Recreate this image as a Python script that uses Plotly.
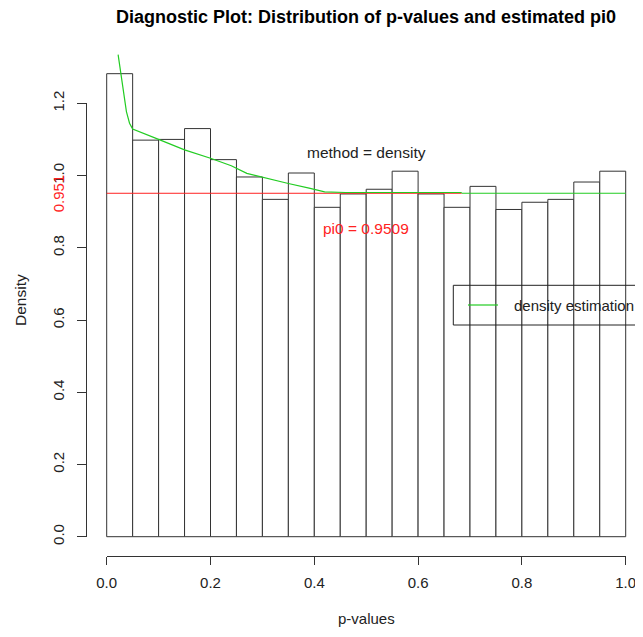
import plotly.graph_objects as go

# ---------------- data ----------------
bin_edges = [0.00, 0.05, 0.10, 0.15, 0.20, 0.25, 0.30, 0.35, 0.40, 0.45, 0.50,
             0.55, 0.60, 0.65, 0.70, 0.75, 0.80, 0.85, 0.90, 0.95, 1.00]
density = [1.282, 1.098, 1.100, 1.130, 1.044, 0.996, 0.934, 1.007, 0.912, 0.949,
           0.962, 1.012, 0.949, 0.912, 0.970, 0.906, 0.926, 0.934, 0.982, 1.012]

curve_lambda = [0.022, 0.027, 0.032, 0.038, 0.044, 0.050, 0.100, 0.150, 0.200, 0.240,
                0.270, 0.300, 0.350, 0.390, 0.420, 0.460, 0.684]
curve_pi0 = [1.335, 1.287, 1.232, 1.177, 1.145, 1.129, 1.100, 1.071, 1.048, 1.027,
             1.006, 0.995, 0.978, 0.965, 0.955, 0.953, 0.953]

pi0 = 0.9509
pi0_line_x = [0.0, 0.684]
flat_line_x = [0.684, 1.0]
flat_line_y = 0.951

x_ticks = [0.0, 0.2, 0.4, 0.6, 0.8, 1.0]
x_tick_labels = ["0.0", "0.2", "0.4", "0.6", "0.8", "1.0"]
y_ticks = [0.0, 0.2, 0.4, 0.6, 0.8, 1.0, 1.2]
y_tick_labels = ["0.0", "0.2", "0.4", "0.6", "0.8", "1.0", "1.2"]

title = "Diagnostic Plot: Distribution of p-values and estimated pi0"

# ---------------- layout geometry (target screen pixels) ----------------
OFF = 8                      # page body margin (on every side)
W, H = 643 - 2 * OFF, 637 - 2 * OFF

def P(v):                    # screen pixel -> figure pixel
    return v - OFF

ML, MR, MT = P(86), 0, P(34)
MB = H - P(556)
PW, PH = W - ML - MR, H - MT - MB
X0_PX, X1_PX = P(106.7), P(625.7)      # pixel of x=0 and x=1
Y0_PX, Y12_PX = P(536.7), P(103.3)     # pixel of y=0 and y=1.2
sx = (X1_PX - X0_PX) / 1.0
sy = (Y0_PX - Y12_PX) / 1.2
x_lo = -(X0_PX - ML) / sx
x_hi = x_lo + PW / sx
bottom_px = H - MB
y_lo = -(bottom_px - Y0_PX) / sy
y_hi = y_lo + PH / sy

def px_to_paper_x(p):
    return (P(p) - ML) / PW

def px_to_paper_y(p):
    return (bottom_px - P(p)) / PH

def dx(p):
    return (P(p) - X0_PX) / sx

def dy(p):
    return (Y0_PX - P(p)) / sy

FONT = "Liberation Sans, Arial, sans-serif"
FS = 15.5
TFS = 15
EDGE = "#333333"
TXT = "#222222"
GREEN = "#22cc22"
RED = "#ff2222"

centers = [(bin_edges[i] + bin_edges[i + 1]) / 2 for i in range(len(density))]
widths = [bin_edges[i + 1] - bin_edges[i] for i in range(len(density))]

fig = go.Figure()

fig.add_trace(go.Bar(
    x=centers, y=density, width=widths,
    marker=dict(color="white", line=dict(color=EDGE, width=1)),
    showlegend=False, hoverinfo="skip"))

fig.add_trace(go.Scatter(
    x=pi0_line_x, y=[pi0, pi0], mode="lines",
    line=dict(color=RED, width=1), showlegend=False, hoverinfo="skip"))

fig.add_trace(go.Scatter(
    x=curve_lambda, y=curve_pi0, mode="lines",
    line=dict(color=GREEN, width=1.2), showlegend=False, hoverinfo="skip"))

fig.add_trace(go.Scatter(
    x=flat_line_x, y=[flat_line_y, flat_line_y], mode="lines",
    line=dict(color=GREEN, width=1.2), showlegend=False, hoverinfo="skip"))

# legend box (open at the right edge as in the reference)
lg_x0 = dx(453.3)
lg_x1 = x_hi + 0.1
lg_top = dy(285.3)
lg_bot = dy(325.0)
fig.add_trace(go.Scatter(
    x=[lg_x1, lg_x0, lg_x0, lg_x1], y=[lg_top, lg_top, lg_bot, lg_bot],
    mode="lines", line=dict(color=TXT, width=1), showlegend=False, hoverinfo="skip"))
lg_mid = dy(305.0)
fig.add_trace(go.Scatter(
    x=[dx(468), dx(498)], y=[lg_mid, lg_mid],
    mode="lines", line=dict(color=GREEN, width=1.2), showlegend=False, hoverinfo="skip"))

# dummy trace for the display axes
fig.add_trace(go.Scatter(x=[None], y=[None], xaxis="x2", yaxis="y2",
                         showlegend=False, hoverinfo="skip"))

annotations = [
    dict(text="<b>" + title + "</b>", xref="x", yref="paper", x=0.5,
         y=px_to_paper_y(17), xanchor="center", yanchor="middle", showarrow=False,
         font=dict(family=FONT, size=18, color="black")),
    dict(text="method = density", xref="x", yref="y", x=0.5, y=dy(152),
         xanchor="center", yanchor="middle", showarrow=False,
         font=dict(family=FONT, size=FS, color=TXT)),
    dict(text="pi0 = " + f"{pi0:.4f}", xref="x", yref="y", x=0.5, y=dy(228),
         xanchor="center", yanchor="middle", showarrow=False,
         font=dict(family=FONT, size=FS, color=RED)),
    dict(text=f"{pi0:.3f}", xref="paper", yref="y", x=px_to_paper_x(58), y=pi0,
         xanchor="center", yanchor="middle", textangle=-90, showarrow=False,
         font=dict(family=FONT, size=TFS, color=RED)),
    dict(text="density estimation", xref="x", yref="y", x=dx(512), y=lg_mid,
         xanchor="left", yanchor="middle", showarrow=False,
         font=dict(family=FONT, size=15, color=TXT)),
    dict(text="Density", xref="paper", yref="paper", x=px_to_paper_x(20),
         y=px_to_paper_y(300), xanchor="center", yanchor="middle", textangle=-90,
         showarrow=False, font=dict(family=FONT, size=FS, color=TXT)),
    dict(text="p-values", xref="x", yref="paper", x=0.5, y=px_to_paper_y(618),
         xanchor="center", yanchor="middle", showarrow=False,
         font=dict(family=FONT, size=15, color=TXT)),
]

fig.update_layout(
    width=W, height=H,
    margin=dict(l=ML, r=MR, t=MT, b=MB, pad=0, autoexpand=False),
    paper_bgcolor="white", plot_bgcolor="rgba(0,0,0,0)",
    showlegend=False,
    barmode="overlay",
    xaxis=dict(range=[x_lo, x_hi], visible=False, fixedrange=True),
    yaxis=dict(range=[y_lo, y_hi], visible=False, fixedrange=True),
    xaxis2=dict(domain=[px_to_paper_x(106.7), px_to_paper_x(625.7)], anchor="free",
                position=0, range=[0, 1], showline=True, linecolor=EDGE, linewidth=1,
                ticks="outside", ticklen=8, tickcolor=EDGE, tickwidth=1,
                tickvals=x_ticks, ticktext=x_tick_labels, showgrid=False, zeroline=False,
                ticklabelstandoff=5, automargin=False, ticklabeloverflow="allow",
                tickfont=dict(family=FONT, size=TFS, color=TXT)),
    yaxis2=dict(domain=[px_to_paper_y(536.7), px_to_paper_y(103.3)], anchor="free",
                position=0, range=[0, 1.2], showline=True, linecolor=EDGE, linewidth=1,
                ticks="outside", ticklen=9, tickcolor=EDGE, tickwidth=1,
                tickvals=y_ticks, ticktext=y_tick_labels, showgrid=False, zeroline=False,
                tickangle=-90, ticklabelstandoff=7, automargin=False,
                ticklabeloverflow="allow",
                tickfont=dict(family=FONT, size=TFS, color=TXT)),
    annotations=annotations,
)

fig.write_html("out.html")
